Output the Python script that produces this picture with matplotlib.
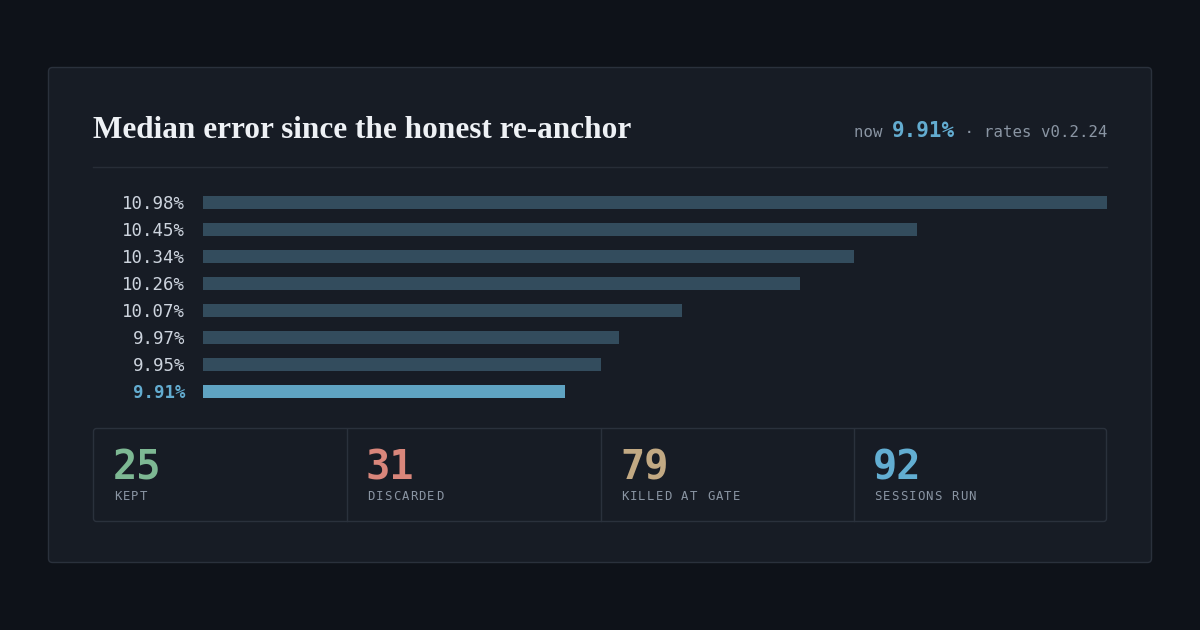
import matplotlib
matplotlib.use("Agg")
import matplotlib.pyplot as plt
from matplotlib.patches import FancyBboxPatch
from matplotlib.lines import Line2D

# ---- data ----
error_labels = ["10.98%", "10.45%", "10.34%", "10.26%", "10.07%", "9.97%", "9.95%", "9.91%"]
bar_scores = [1.00, 0.79, 0.72, 0.66, 0.53, 0.46, 0.44, 0.40]
current_index = 7
stat_values = ["25", "31", "79", "92"]
stat_labels = ["KEPT", "DISCARDED", "KILLED AT GATE", "SESSIONS RUN"]
stat_colors = ["#7db893", "#d9867b", "#c2a983", "#62aed2"]
title = "Median error since the honest re-anchor"
now_value = "9.91%"
version = "rates v0.2.24"

W, H = 1200, 630
BG = "#0e1219"
CARD = "#171c25"
BORDER = "#2a313c"
BAR = "#334c5d"
HI = "#5fa3c2"
LABEL = "#cdd4de"
MUTED = "#8a95a3"
MONO = "DejaVu Sans Mono"

fig = plt.figure(figsize=(W / 100, H / 100), dpi=100, facecolor=BG)
bg = fig.add_axes([0, 0, 1, 1])
bg.set_xlim(0, W)
bg.set_ylim(H, 0)
bg.axis("off")

# card
bg.add_patch(FancyBboxPatch((48.5, 67.5), 1103, 495, boxstyle="round,pad=0,rounding_size=4",
                            fc=CARD, ec=BORDER, lw=1))

# title
fig.canvas.draw()
r = fig.canvas.get_renderer()
tt = bg.text(93, 138, title, family="Liberation Serif", fontsize=22.5, color="#eef1f5",
             weight="bold", ha="left", va="baseline")
bb = tt.get_window_extent(renderer=r)
target_w = 539
tt.set_fontsize(22.5 * target_w / bb.width)

# header right: composed right-to-left
pieces = [("now ", MUTED, 11.3, "normal"), (now_value, "#63acd0", 15, "bold"),
          (" \u00b7 ", MUTED, 11.3, "normal"), (version, MUTED, 11.3, "normal")]
xr = 1107
for txt, col, fs, wt in reversed(pieces):
    t = bg.text(xr, 137, txt, family=MONO, fontsize=fs, color=col, weight=wt,
                ha="right", va="baseline")
    bb = t.get_window_extent(renderer=r)
    xr = bg.transData.inverted().transform((bb.x0, bb.y0))[0]

# separator
bg.add_line(Line2D([93, 1107], [166.5, 166.5], color="#272d37", lw=1))

# bars
n = len(bar_scores)
slot = 27
top = 202 - slot / 2
ax = fig.add_axes([203 / W, 1 - (top + n * slot) / H, 904 / W, n * slot / H])
ax.set_facecolor("none")
ax.set_xlim(0, 1)
ax.set_ylim(n - 0.5, -0.5)
colors = [HI if i == current_index else BAR for i in range(n)]
ax.barh(range(n), bar_scores, height=13 / slot, color=colors, left=0)
ax.set_yticks(range(n))
ax.set_yticklabels(error_labels, family=MONO, fontsize=12.5)
for i, tl in enumerate(ax.get_yticklabels()):
    tl.set_weight("bold" if i == current_index else "medium")
    tl.set_color("#63acd0" if i == current_index else LABEL)
ax.tick_params(axis="y", length=0, pad=18 * 72 / 100)
ax.set_xticks([])
for s in ax.spines.values():
    s.set_visible(False)

# stats box
bg.add_patch(FancyBboxPatch((93.5, 428.5), 1013, 93, boxstyle="round,pad=0,rounding_size=3",
                            fc="none", ec=BORDER, lw=1))
cells_x = [93.5, 346.5, 600.5, 853.5]
for i in range(1, 4):
    bg.add_line(Line2D([cells_x[i], cells_x[i]], [429, 521], color=BORDER, lw=1))
for i in range(4):
    x = cells_x[i] + 20.5
    bg.text(x - 1, 480, stat_values[i], family=MONO, fontsize=29, weight="bold",
            color=stat_colors[i], ha="left", va="baseline")
    for k, ch in enumerate(stat_labels[i]):
        bg.text(x + k * 8.6, 500, ch, family=MONO, fontsize=8.8, color=MUTED,
                ha="left", va="baseline")

fig.savefig("out.png", dpi=100, facecolor=BG)
